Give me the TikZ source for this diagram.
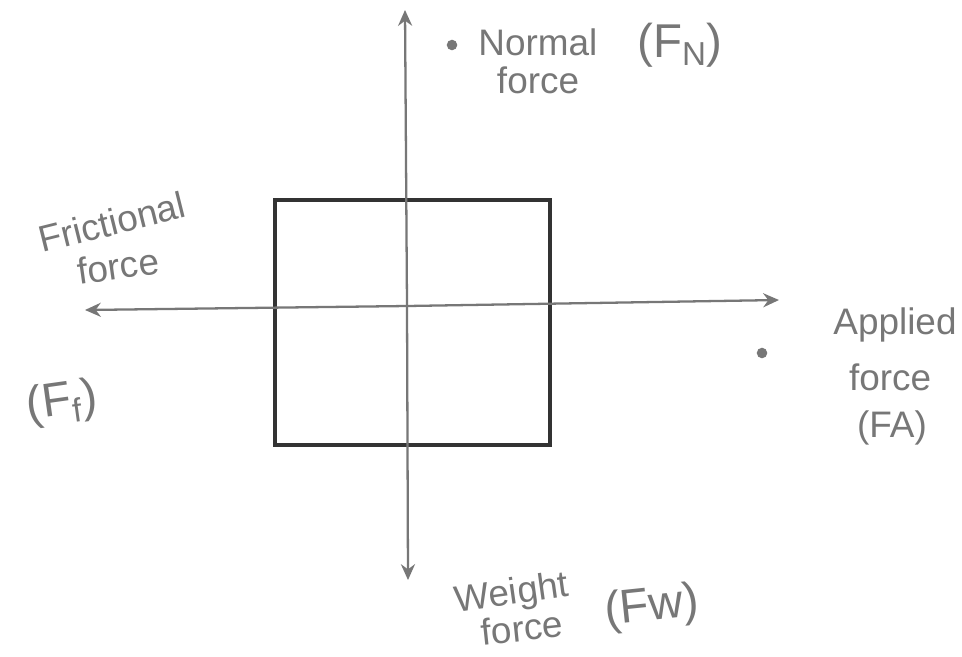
\documentclass[tikz,border=0pt]{standalone}
\usepackage{fontspec}
\setmainfont{Liberation Sans}
\usetikzlibrary{arrows.meta}
\definecolor{pencil}{HTML}{777777}
\definecolor{boxink}{HTML}{333333}
\tikzset{
  axis/.style={draw=pencil, line width=1.3pt, -{Stealth[length=9pt,width=8pt]}},
  boxline/.style={draw=boxink, line width=2.4pt},
  hand/.style={text=pencil, font=\fontsize{21}{23}\selectfont, inner sep=0pt, align=center},
  bighand/.style={hand, font=\fontsize{27}{29}\selectfont},
  inkdot/.style={circle, fill=pencil, inner sep=0pt, minimum size=6pt},
}
\begin{document}
\begin{tikzpicture}[x=0.02cm, y=-0.02cm]
\useasboundingbox (0,0) rectangle (962,656);
\fill[white] (0,0) rectangle (962,656);
% box
\node[boxline, minimum width=5.5cm, minimum height=4.9cm, inner sep=0pt] (box) at (412.5,322.5) {};
% axes
\coordinate (c) at (407,306);
\coordinate (top) at (405,10);
\coordinate (bottom) at (408,580);
\coordinate (left) at (85,310);
\coordinate (right) at (779,300);
\draw[axis] (c) -- (top);
\draw[axis] (c) -- (bottom);
\draw[axis] (c) -- (left);
\draw[axis] (c) -- (right);
% labels
\node[inkdot] (d1) at (452,45) {};
\node[hand, anchor=west] (normal) at (478,42) {Normal};
\node[bighand] (fn) at (680,45) {(F\textsubscript{N})};
\node[hand] (normalf) at (538,80) {force};
\node[hand, rotate=14] (fric) at (112,222) {Frictional};
\node[hand, rotate=8] (fricf) at (118,266) {force};
\node[bighand, rotate=8] (ff) at (62,403) {(F\textsubscript{f})};
\node[inkdot] (d2) at (762,353) {};
\node[hand] (app) at (895,325) {Applied};
\node[hand] (appf) at (890,377) {force};
\node[hand] (appfa) at (892,428) {(FA)};
\node[hand, rotate=8] (wt) at (512,595) {Weight};
\node[hand, rotate=6] (wtf) at (522,628) {force};
\node[bighand, rotate=6] (fw) at (652,608) {(Fw)};
\end{tikzpicture}
\end{document}
